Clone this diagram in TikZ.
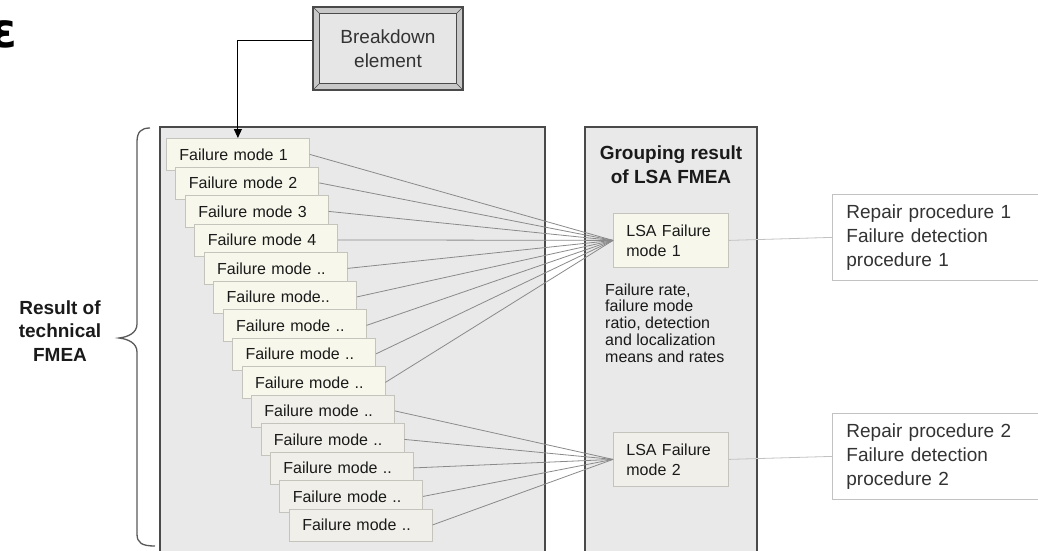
\documentclass[tikz,border=0pt]{standalone}
\usepackage{fontspec}
\setmainfont{Liberation Sans}
\newfontfamily\djv{DejaVu Sans}
\usetikzlibrary{arrows.meta}
\definecolor{panelfill}{HTML}{E9E9E9}
\definecolor{panelline}{HTML}{4A4A4A}
\definecolor{creamfill}{HTML}{F7F7EB}
\definecolor{greyfill}{HTML}{F0EFEA}
\definecolor{boxline}{HTML}{C4C4BC}
\definecolor{connline}{HTML}{8A8A8A}
\definecolor{lightconn}{HTML}{C2C2C2}
\definecolor{bandfill}{HTML}{C8C8C8}
\definecolor{innerfill}{HTML}{E6E6E6}
\definecolor{txtdark}{HTML}{1A1A1A}
\definecolor{txtgrey}{HTML}{333333}
\begin{document}
\begin{tikzpicture}[x=1pt,y=-1pt,
  panel/.style={fill=panelfill,draw=panelline,line width=1.3pt},
  fmbox/.style={draw=boxline,line width=0.8pt,anchor=north west,minimum height=32pt,
    text width=117pt,inner xsep=13pt,inner ysep=0pt,align=left,text=txtdark,
    font=\fontsize{16}{18}\selectfont},
  lsabox/.style={draw=boxline,line width=0.8pt,anchor=north west,minimum height=54pt,
    text width=89pt,inner xsep=13pt,inner ysep=0pt,align=left,text=txtdark,
    font=\fontsize{16}{20}\selectfont},
  repbox/.style={draw=lightconn,fill=white,line width=0.8pt,anchor=north west,minimum height=86pt,
    text width=200pt,inner xsep=14pt,inner ysep=0pt,align=left,text=txtgrey,
    font=\fontsize{19}{24}\selectfont},
  conn/.style={draw=connline,line width=0.8pt},
  lconn/.style={draw=lightconn,line width=0.8pt},
  bracestyle/.style={draw=black!65,line width=1.3pt},
  boldlabel/.style={font=\bfseries\fontsize{19}{24}\selectfont,align=center,text=txtdark}
]
\useasboundingbox (0,0) rectangle (1038,551);

% clipped glyph at top left
\node[font=\djv\bfseries\fontsize{48}{48}\selectfont,anchor=center] (glyph) at (4,34) {ɛ};

% panels
\fill[panelfill] (160,127) rectangle (545,560);
\draw[panel,fill=none] (160,560) -- (160,127) -- (545,127) -- (545,560);
\fill[panelfill] (585,127) rectangle (757,560);
\draw[panel,fill=none] (585,560) -- (585,127) -- (757,127) -- (757,560);

% breakdown element
\node[draw=panelline,fill=bandfill,line width=1.2pt,minimum width=150pt,minimum height=83pt] (bd) at (388,48.5) {};
\draw[draw=panelline,fill=innerfill,line width=0.9pt] ([shift={(7,7)}]bd.north west) rectangle ([shift={(-7,-7)}]bd.south east);
\draw[draw=panelline,line width=0.6pt] (bd.north west) -- ([shift={(7,7)}]bd.north west)
  (bd.north east) -- ([shift={(-7,7)}]bd.north east)
  (bd.south west) -- ([shift={(7,-7)}]bd.south west)
  (bd.south east) -- ([shift={(-7,-7)}]bd.south east);
\node[font=\fontsize{19}{24}\selectfont,align=center,text=txtgrey] (bdt) at (bd.center) {Breakdown\\element};

% grouping title
\node[boldlabel] (grp) at (671,165) {Grouping result\\of LSA FMEA};

% LSA boxes
\node[lsabox,fill=creamfill] (lsa1) at (613,213) {LSA Failure\\mode 1};
\node[lsabox,fill=greyfill] (lsa2) at (613,432) {LSA Failure\\mode 2};

% stats text
\node[anchor=north west,inner sep=0pt,align=left,text=txtdark,
  font=\fontsize{16}{16.7}\selectfont] (stats) at (605,283.5)
  {Failure rate,\\failure mode\\ratio, detection\\and localization\\means and rates};

% repair boxes
\node[repbox] (rp1) at (832,194) {Repair procedure 1\\Failure detection\\procedure 1};
\node[repbox] (rp2) at (832,413) {Repair procedure 2\\Failure detection\\procedure 2};
\draw[lconn] (lsa1.east) -- (rp1.west);
\draw[lconn] (lsa2.east) -- (rp2.west);

% failure mode boxes
\foreach \i/\t in {1/Failure mode 1,2/Failure mode 2,3/Failure mode 3,4/Failure mode 4,5/Failure mode ..,6/Failure mode..,7/Failure mode ..,8/Failure mode ..,9/Failure mode ..}{
  \pgfmathsetmacro\xx{166+9.45*(\i-1)}
  \pgfmathsetmacro\yy{138+28.5*(\i-1)}
  \node[fmbox,fill=creamfill] (fm\i) at (\xx,\yy) {\t};
}
\foreach \i/\t in {10/Failure mode ..,11/Failure mode ..,12/Failure mode ..,13/Failure mode ..,14/Failure mode ..}{
  \pgfmathsetmacro\xx{166+9.45*(\i-1)}
  \pgfmathsetmacro\yy{138+28.5*(\i-1)}
  \node[fmbox,fill=greyfill] (fm\i) at (\xx,\yy) {\t};
}
\foreach \i in {1,...,9}{\draw[conn] (fm\i.east) -- (lsa1.west);}
\foreach \i in {10,...,14}{\draw[conn] (fm\i.east) -- (lsa2.west);}

% arrow from breakdown element
\draw[line width=0.9pt,-{Triangle[length=9pt,width=8pt]}] ([yshift=8.5pt]bd.west) -| (fm1.north);

% brace and label
\draw[bracestyle] (150,128) .. controls (141,128) and (137,132) .. (137,142) -- (137,324)
  .. controls (137,333) and (128,337) .. (119,338)
  .. controls (128,339) and (137,343) .. (137,352) -- (137,534)
  .. controls (137,543) and (142,546) .. (155,546);
\node[boldlabel,font=\bfseries\fontsize{19}{23.5}\selectfont] (res) at (60,331) {Result of\\technical\\FMEA};
\end{tikzpicture}
\end{document}
